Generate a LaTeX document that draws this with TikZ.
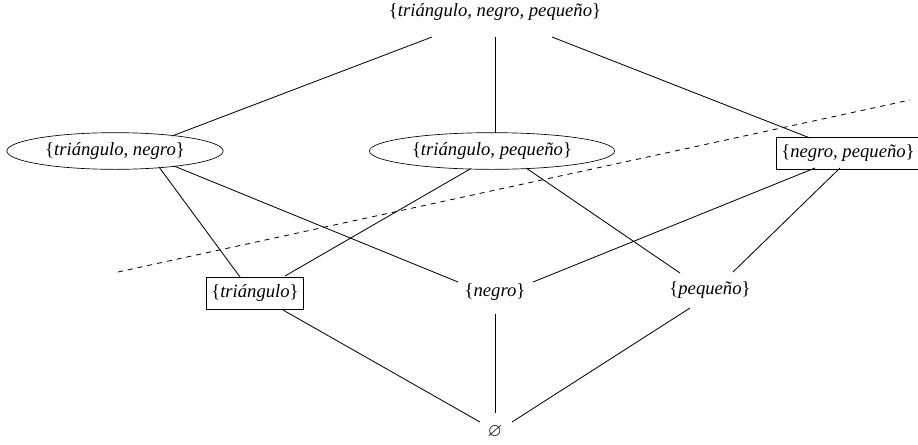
\documentclass[tikz,border=0pt]{standalone}
\usepackage{amssymb}
\usepackage{fontspec}
\setmainfont{Liberation Serif}
\usepackage{tikz}
\usetikzlibrary{shapes.geometric, calc}

\begin{document}
\begin{tikzpicture}[
    x=0.6pt, y=-0.6pt,
    every node/.style={font=\fontsize{11.2}{13}\selectfont, inner sep=3pt},
    setnode/.style={},
    ovalset/.style={ellipse, draw, inner xsep=4pt, inner ysep=1pt, minimum height=22pt},
    boxset/.style={rectangle, draw, inner xsep=3pt, inner ysep=2pt, minimum height=19pt},
    link/.style={line width=0.5pt},
    cut/.style={dashed, line width=0.5pt}
]
\useasboundingbox (0,0) rectangle (918,444);

\node[setnode] (tnp) at (495,12) {\{\textit{triángulo, negro, pequeño}\}};

\node[ovalset] (tn) at (115,151) {\{\textit{triángulo, negro}\}};
\node[ovalset] (tp) at (492,151) {\{\textit{triángulo, pequeño}\}};
\node[boxset] (np) at (848,153) {\{\textit{negro, pequeño}\}};

\node[boxset] (t) at (255,293) {\{\textit{triángulo}\}};
\node[setnode] (n) at (495,292) {\{\textit{negro}\}};
\node[setnode] (p) at (710,290) {\{\textit{pequeño}\}};

\node[setnode] (e) at (495,432) {$\varnothing$};

\draw[link] ($(tnp)+(-63,25)$) -- ($(tn)+(57,-15)$);
\draw[link] ($(tnp)+(0,25)$) -- ($(tp)+(3,-18)$);
\draw[link] ($(tnp)+(57,25)$) -- ($(np)+(-38,-15)$);

\draw[link] ($(tn)+(44,16)$) -- ($(t)+(-15,-16)$);
\draw[link] ($(tn)+(59,15)$) -- ($(n)+(-37,-10)$);
\draw[link] ($(tp)+(-21,17.5)$) -- ($(t)+(30,-17)$);
\draw[link] ($(tp)+(34,17)$) -- ($(p)+(-30,-17)$);
\draw[link] ($(np)+(-33,15)$) -- ($(n)+(38,-10)$);
\draw[link] ($(np)+(-8,15)$) -- ($(p)+(23,-18)$);

\draw[link] ($(t)+(28,17)$) -- ($(e)+(-15,-10)$);
\draw[link] ($(n)+(0,22)$) -- ($(e)+(0,-19)$);
\draw[link] ($(p)+(-20,18)$) -- ($(e)+(17,-10)$);

\coordinate (cutA) at (118,272);
\coordinate (cutB) at (910,100);
\draw[cut] (cutA) -- (cutB);
\end{tikzpicture}
\end{document}
